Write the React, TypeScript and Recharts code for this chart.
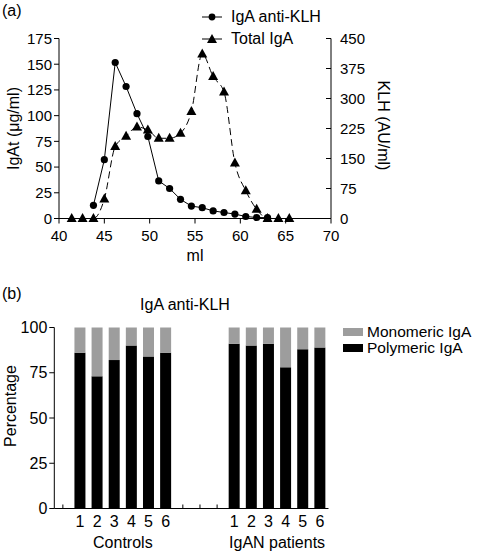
import React from 'react';
import { LineChart, Line, BarChart, Bar, XAxis, YAxis, Legend } from 'recharts';

const FONT = '"Liberation Sans", Arial, Helvetica, sans-serif';

// (a) gel filtration profile
const fractionMl = [41.4, 42.6, 43.8, 45.0, 46.2, 47.4, 48.6, 49.8, 51.0, 52.2, 53.4, 54.6, 55.8, 57.0, 58.2, 59.4, 60.6, 61.8, 63.0, 64.2, 65.4];
const antiKlh = [null, null, 33, 147, 390, 330, 262, 205, 94, 75, 48, 31, 27, 19, 15, 11, 5, 2.5, 2, null, null];
const totalIgA = [0, 0, 0, 19, 70, 80, 89, 86, 78, 78, 83, 104, 160, 138, 123, 54, 27, 9, 0, 0, 0];
const mlTicks = [40, 45, 50, 55, 60, 65, 70];
const igaTicks = [0, 25, 50, 75, 100, 125, 150, 175];
const klhTicks = [0, 75, 150, 225, 300, 375, 450];

// (b) polymeric vs monomeric IgA anti-KLH
const subjects = ['1', '2', '3', '4', '5', '6'];
const groups = ['Controls', 'IgAN patients'];
const gapsBefore = [1, 3];
const polymeric = [
  [86, 73, 82, 90, 84, 86],
  [91, 90, 91, 78, 88, 89],
];
const monomeric = [
  [14, 27, 18, 10, 16, 14],
  [9, 10, 9, 22, 12, 11],
];
const pctTicks = [0, 25, 50, 75, 100];

const profileData = fractionMl.map((ml, i) => ({ ml, antiKlh: antiKlh[i], totalIgA: totalIgA[i] }));

const barRows: any[] = [];
const groupCenters: number[] = [];
groups.forEach((g, gi) => {
  for (let k = 0; k < gapsBefore[gi]; k++) barRows.push({ name: '', slot: barRows.length + 0.5 });
  const start = barRows.length;
  subjects.forEach((s, si) => {
    barRows.push({
      name: s,
      slot: barRows.length + 0.5,
      polymeric: polymeric[gi][si],
      monomeric: monomeric[gi][si],
    });
  });
  groupCenters.push((start + barRows.length) / 2);
});

const tickStyle = { fontSize: 15, fill: '#000', fontFamily: FONT };
const axisStroke = { stroke: '#000', strokeWidth: 1 };

function CircleDot(props: any) {
  const { cx, cy, value, index } = props;
  if (value == null || cx == null || cy == null) return <g key={index} />;
  return <circle key={index} cx={cx} cy={cy} r={3.6} fill="#000" />;
}

function TriangleDot(props: any) {
  const { cx, cy, value, index } = props;
  if (value == null || cx == null || cy == null) return <g key={index} />;
  return <path key={index} d={`M${cx},${cy - 5.5} L${cx + 5},${cy + 3.5} L${cx - 5},${cy + 3.5} Z`} fill="#000" />;
}

function ProfileLegend({ payload }: any) {
  return (
    <div style={{ fontFamily: FONT, fontSize: 16, color: '#000' }}>
      {(payload || []).map((entry: any) => (
        <div key={entry.value} style={{ display: 'flex', alignItems: 'center', height: 22 }}>
          <svg width={22} height={12} style={{ marginRight: 8 }}>
            <line x1={1} y1={6} x2={21} y2={6} stroke="#000" strokeWidth={1} />
            {entry.dataKey === 'antiKlh' ? (
              <circle cx={11} cy={6} r={3.4} fill="#000" />
            ) : (
              <path d="M11,1 L16,10 L6,10 Z" fill="#000" />
            )}
          </svg>
          <span>{entry.value}</span>
        </div>
      ))}
    </div>
  );
}

function BarLegend({ payload }: any) {
  const items = [...(payload || [])].sort((a: any, b: any) => (a.dataKey === 'monomeric' ? -1 : b.dataKey === 'monomeric' ? 1 : 0));
  return (
    <div style={{ fontFamily: FONT, fontSize: 15.5, lineHeight: '16px', color: '#000' }}>
      {items.map((entry: any) => (
        <div key={entry.value} style={{ display: 'flex', alignItems: 'center', height: 16 }}>
          <div style={{ width: 20, height: 8, background: entry.color, marginRight: 4 }} />
          <span>{entry.value}</span>
        </div>
      ))}
    </div>
  );
}

export default function App() {
  return (
    <div style={{ position: 'absolute', left: 0, top: 0, width: 478, height: 551, background: '#fff', fontFamily: FONT }}>
      <div style={{ position: 'absolute', left: 2, top: 2, fontSize: 16 }}>(a)</div>
      <div style={{ position: 'absolute', left: 0, top: 0 }}>
        <LineChart width={478} height={270} data={profileData} margin={{ top: 38.5, right: 5, left: 5, bottom: 0 }}>
          <XAxis
            dataKey="ml"
            type="number"
            domain={[40, 70]}
            ticks={mlTicks}
            tick={tickStyle}
            tickSize={5}
            tickMargin={7}
            axisLine={axisStroke}
            tickLine={axisStroke}
            height={51.5}
            label={(p: any) => {
              const vb = p.viewBox;
              return (
                <text x={vb.x + vb.width / 2} y={vb.y + 42} textAnchor="middle" fontSize={16} fontFamily={FONT} fill="#000">
                  ml
                </text>
              );
            }}
          />
          <YAxis
            yAxisId="iga"
            domain={[0, 175]}
            ticks={igaTicks}
            tick={tickStyle}
            tickSize={5}
            tickMargin={2}
            width={54}
            axisLine={axisStroke}
            tickLine={axisStroke}
            label={(p: any) => {
              const vb = p.viewBox;
              const x = vb.x + 8;
              const y = vb.y + vb.height / 2;
              return (
                <text x={x} y={y} transform={`rotate(-90 ${x} ${y})`} textAnchor="middle" dominantBaseline="central" fontSize={16} fontFamily={FONT} fill="#000">
                  IgAt (μg/ml)
                </text>
              );
            }}
          />
          <YAxis
            yAxisId="klh"
            orientation="right"
            domain={[0, 450]}
            ticks={klhTicks}
            tick={tickStyle}
            tickSize={-5}
            tickMargin={14}
            width={142}
            axisLine={axisStroke}
            tickLine={axisStroke}
            label={(p: any) => {
              const vb = p.viewBox;
              const x = vb.x + 52;
              const y = vb.y + vb.height / 2 - 3;
              return (
                <text x={x} y={y} transform={`rotate(90 ${x} ${y})`} textAnchor="middle" dominantBaseline="central" fontSize={16} fontFamily={FONT} fill="#000">
                  KLH (AU/ml)
                </text>
              );
            }}
          />
          <Legend
            layout="vertical"
            align="center"
            verticalAlign="middle"
            content={<ProfileLegend />}
            wrapperStyle={{ top: 6, left: 201, width: 150 }}
          />
          <Line
            yAxisId="klh"
            dataKey="antiKlh"
            name="IgA anti-KLH"
            type="linear"
            stroke="#000"
            strokeWidth={1}
            dot={CircleDot}
            activeDot={false}
            isAnimationActive={false}
          />
          <Line
            yAxisId="iga"
            dataKey="totalIgA"
            name="Total IgA"
            type="monotone"
            stroke="#000"
            strokeWidth={1}
            strokeDasharray="7 4"
            dot={TriangleDot}
            activeDot={false}
            isAnimationActive={false}
          />
        </LineChart>
      </div>

      <div style={{ position: 'absolute', left: 2, top: 285, fontSize: 16 }}>(b)</div>
      <div style={{ position: 'absolute', left: 140, top: 296, width: 90, textAlign: 'center', fontSize: 16, whiteSpace: 'nowrap' }}>IgA anti-KLH</div>
      <div style={{ position: 'absolute', left: 0, top: 280 }}>
        <BarChart width={478} height={271} data={barRows} margin={{ top: 47.5, right: 149.5, left: 4, bottom: 0 }} barSize={11}>
          <XAxis
            dataKey="name"
            tick={{ ...tickStyle, fontSize: 16 }}
            tickSize={-4}
            tickMargin={11.5}
            height={20}
            axisLine={axisStroke}
            tickLine={axisStroke}
            interval={0}
          />
          <XAxis
            xAxisId="group"
            dataKey="slot"
            type="number"
            domain={[0, barRows.length]}
            ticks={groupCenters}
            tickFormatter={(v: number) => groups[groupCenters.indexOf(v)] ?? ''}
            tick={{ ...tickStyle, fontSize: 16 }}
            tickSize={0}
            tickMargin={8.5}
            height={22.5}
            axisLine={false}
            tickLine={false}
            interval={0}
          />
          <YAxis
            domain={[0, 100]}
            ticks={pctTicks}
            tick={{ ...tickStyle, fontSize: 16 }}
            tickSize={5}
            tickMargin={2}
            width={50.3}
            axisLine={axisStroke}
            tickLine={axisStroke}
            label={(p: any) => {
              const vb = p.viewBox;
              const x = vb.x + 6;
              const y = 126;
              return (
                <text x={x} y={y} transform={`rotate(-90 ${x} ${y})`} textAnchor="middle" dominantBaseline="central" fontSize={16} fontFamily={FONT} fill="#000">
                  Percentage
                </text>
              );
            }}
          />
          <Legend
            layout="vertical"
            align="center"
            verticalAlign="middle"
            content={<BarLegend />}
            wrapperStyle={{ top: 44, left: 343, width: 135 }}
          />
          <Bar dataKey="polymeric" name="Polymeric IgA" stackId="a" fill="#000" isAnimationActive={false} />
          <Bar dataKey="monomeric" name="Monomeric IgA" stackId="a" fill="#9d9d9d" isAnimationActive={false} />
        </BarChart>
      </div>
    </div>
  );
}
